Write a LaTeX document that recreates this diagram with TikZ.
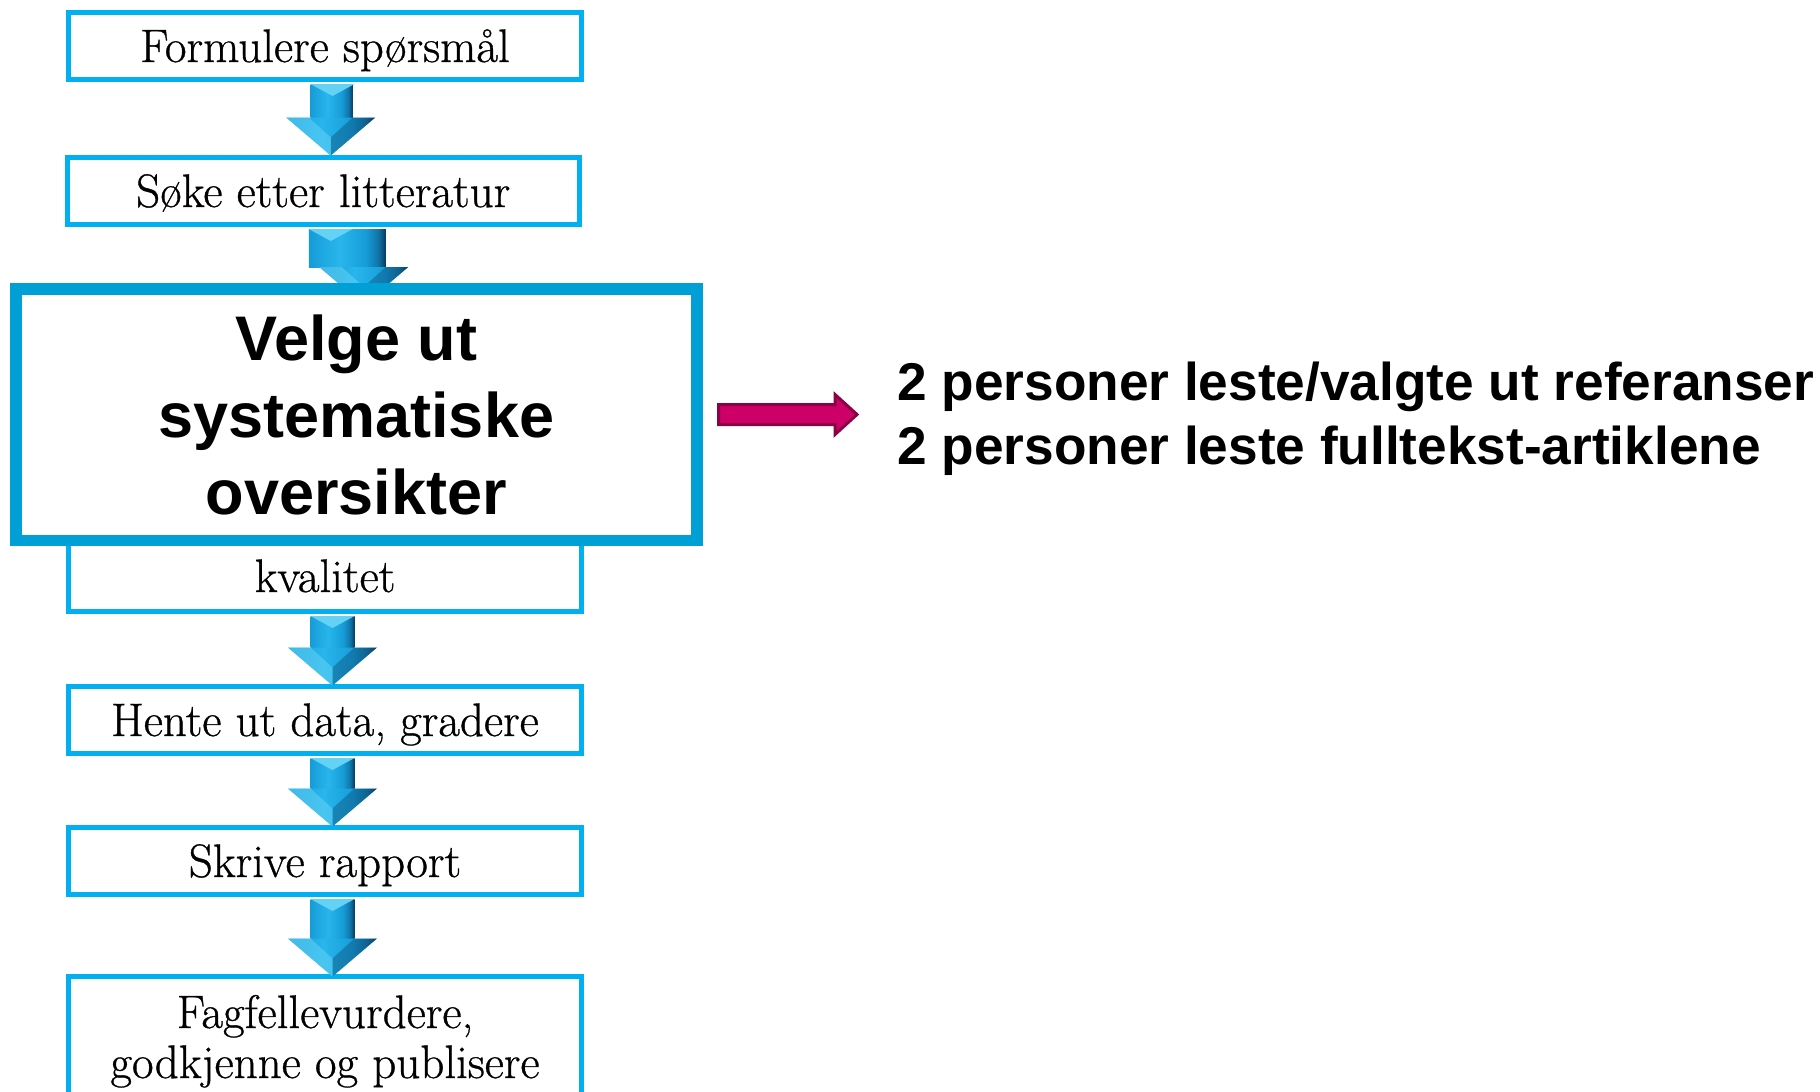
\documentclass[tikz,border=0pt]{standalone}
\usepackage{fontspec}
\newfontfamily\arialfam{Liberation Sans}
\newfontfamily\serifam{Latin Modern Roman}[FakeBold=0.7]
\usetikzlibrary{calc}
\pgfdeclarelayer{back}
\pgfsetlayers{back,main}
\definecolor{boxblue}{RGB}{0,176,240}
\definecolor{bigblue}{RGB}{0,160,214}
\definecolor{aL}{RGB}{22,156,216}
\definecolor{aM}{RGB}{40,182,236}
\definecolor{aD}{RGB}{8,58,96}
\definecolor{aLight}{RGB}{100,210,245}
\definecolor{magfill}{RGB}{204,0,102}
\definecolor{magline}{RGB}{140,0,70}
\pgfdeclarehorizontalshading{arrowshade}{100bp}{color(0bp)=(aL); color(25bp)=(aL); color(45bp)=(aM); color(62bp)=(aL); color(70bp)=(aL!60!aD); color(75bp)=(aD); color(100bp)=(aD)}
\newcommand\bluearrow[3]{%
  \coordinate (ba-s) at ($(#1.south)+(7.5,2.5)$);
  \coordinate (ba-t) at ($(#2.north)+(7.5,#3)$);
  \shade[shading=arrowshade] ($(ba-s)+(-22,0)$) rectangle ($(ba-t)+(22,-38)$);
  \fill[aLight] ($(ba-s)+(-22,0)$) -- ($(ba-s)+(22,0)$) -- ($(ba-s)+(0,12)$) -- cycle;
  \shade[shading=arrowshade] ($(ba-t)+(-44.5,-38)$) -- ($(ba-t)+(44.5,-38)$) -- (ba-t) -- cycle;
  \fill[aLight, opacity=0.55] ($(ba-t)+(-44.5,-38)$) -- ($(ba-t)+(-22,-38)$) -- ($(ba-t)+(0,-18)$) -- (ba-t) -- cycle;
  \fill[aD, opacity=0.35] ($(ba-t)+(44.5,-38)$) -- ($(ba-t)+(22,-38)$) -- ($(ba-t)+(0,-18)$) -- (ba-t) -- cycle;
}
\begin{document}
\begin{tikzpicture}[x=0.5pt,y=-0.5pt,
  sbox/.style={draw=boxblue, line width=2.5pt, fill=white, minimum width=256.5pt,
    inner sep=0pt, text height=25pt, text depth=8.5pt,
    font=\serifam\fontsize{23.5}{26}\selectfont, anchor=base},
  bigbox/.style={draw=bigblue, line width=5.75pt, fill=white, minimum width=340.5pt,
    minimum height=125.75pt, inner sep=0pt, align=center,
    font=\arialfam\bfseries\fontsize{31.5}{38.5}\selectfont},
  sidetext/.style={anchor=west, inner sep=0pt, align=left,
    font=\arialfam\bfseries\fontsize{26.6}{32}\selectfont},
  magarrow/.style={draw=magline, fill=magfill, line width=1.5pt, line join=miter}]
\useasboundingbox (0,0) rectangle (1820,1092);
\begin{pgfonlayer}{back}
\fill[white] (0,0) rectangle (1820,1092);
\end{pgfonlayer}

\node[sbox] (q) at (325,62) {Formulere spørsmål};
\node[sbox, minimum width=255.75pt] (s) at (323.25,207) {Søke etter litteratur};
\node[sbox, text height=59.75pt, text depth=9.5pt] (k) at (325,592) {kvalitet};
\node[sbox] (h) at (325,736) {Hente ut data, gradere};
\node[sbox] (r) at (325,877) {Skrive rapport};
\node[draw=boxblue, line width=2.5pt, fill=white, minimum width=256.5pt, inner xsep=0pt,
  inner ysep=9.5pt, align=center, font=\serifam\fontsize{23.5}{25}\selectfont, anchor=north]
  (f) at (325,973.5) {Fagfellevurdere,\\godkjenne og publisere};

\node[bigbox] (v) at (356.25,414.5) {Velge ut\\systematiske\\oversikter};

\begin{pgfonlayer}{back}
\bluearrow{s}{v}{22}
\end{pgfonlayer}
\bluearrow{q}{s}{1}
\bluearrow{k}{h}{2}
\bluearrow{h}{r}{2}
\bluearrow{r}{f}{3}

\node[sidetext] (t) at (897,419) {2 personer leste/valgte ut referanser\\2 personer leste fulltekst-artiklene};

\coordinate (m1) at ($(v.east)+(16,0)$);
\coordinate (m2) at ($(t.west |- v.east)+(-40,0)$);
\draw[magarrow] ($(m1)+(0,-10)$) -- ($(m2)+(-22,-10)$) -- ($(m2)+(-22,-20)$) -- (m2)
  -- ($(m2)+(-22,20)$) -- ($(m2)+(-22,10)$) -- ($(m1)+(0,10)$) -- cycle;
\end{tikzpicture}
\end{document}
